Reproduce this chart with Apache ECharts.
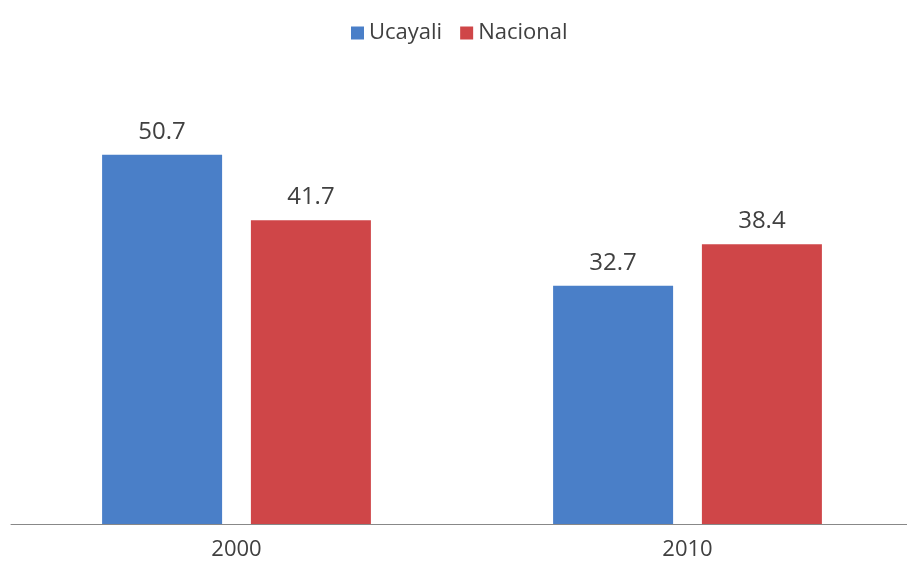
<!DOCTYPE html>
<html><head><meta charset="utf-8">
<script src="https://cdn.jsdelivr.net/npm/echarts@6/dist/echarts.min.js"></script>
<style>html,body{margin:0;padding:0;background:#fff;overflow:hidden}#c{width:913px;height:571px}</style>
</head><body><div id="c"></div>
<script>
const categories = ['2000', '2010'];
const ucayali = [50.7, 32.7];
const nacional = [41.7, 38.4];
const seriesNames = ['Ucayali', 'Nacional'];

const chart = echarts.init(document.getElementById('c'));
const labelStyle = {show: true, position: 'top', distance: 11, fontSize: 24, color: '#404040', fontFamily: 'Open Sans', formatter: p => p.value.toFixed(1)};
chart.setOption({
  animation: false,
  textStyle: {fontFamily: 'Open Sans'},
  legend: {
    data: seriesNames, top: 17, left: 346, itemWidth: 13, itemHeight: 13, itemGap: 18,
    icon: 'rect', textStyle: {fontSize: 22, color: '#404040', fontFamily: 'Open Sans'}
  },
  grid: {left: 11, right: 0, top: 87, bottom: 47, containLabel: false},
  xAxis: {
    type: 'category', data: categories,
    axisLine: {lineStyle: {color: '#888888', width: 1}},
    axisTick: {show: false},
    axisLabel: {fontSize: 22, color: '#404040', margin: 15, fontFamily: 'Open Sans'}
  },
  yAxis: {type: 'value', min: 0, max: 60, show: false, splitLine: {show: false}},
  series: [
    {name: seriesNames[0], type: 'bar', data: ucayali, barWidth: 120, barGap: '24%', itemStyle: {color: '#4a7fc8'}, label: labelStyle},
    {name: seriesNames[1], type: 'bar', data: nacional, barWidth: 120, itemStyle: {color: '#cf4648'}, label: labelStyle}
  ]
});
</script></body></html>
